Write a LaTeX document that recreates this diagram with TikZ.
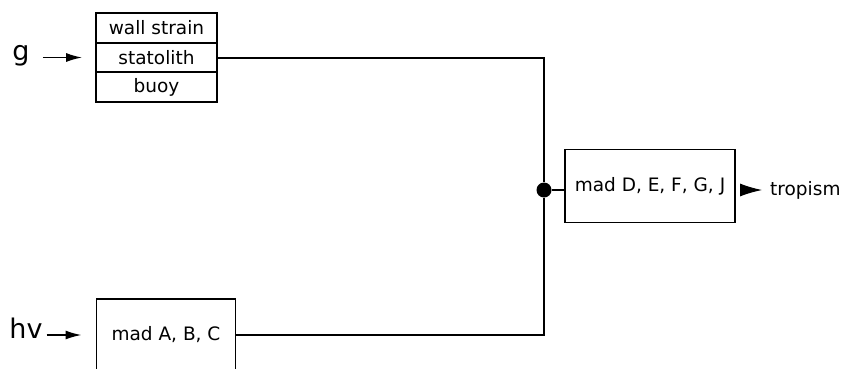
\documentclass[tikz,border=0pt]{standalone}
\usepackage{fontspec}
\setsansfont{DejaVu Sans}
\usetikzlibrary{arrows.meta}
\begin{document}
\begin{tikzpicture}[x=1pt,y=-1pt,
  every node/.style={font=\sffamily\fontsize{18.5}{21}\selectfont},
  cell/.style={draw, line width=1.7pt, minimum width=121pt, minimum height=29.5pt, inner sep=0pt},
  box/.style={draw, line width=1.9pt, inner sep=0pt},
  inlabel/.style={font=\sffamily\fontsize{27}{30}\selectfont, inner sep=0pt},
  wire/.style={line width=2pt},
  feed/.style={line width=1.6pt, -{Latex[length=16pt,width=9pt]}},
]
\useasboundingbox (0,0) rectangle (852,368);
\clip (0,0) rectangle (852,368);

% gravity sensing stack
\node[cell] (wall) at (156.5,28)   {wall strain};
\node[cell] (stat) at (156.5,57.5) {statolith};
\node[cell] (buoy) at (156.5,87)   {buoy};

% light sensing box (runs off the lower edge)
\node[box, minimum width=139pt, minimum height=72pt] (abc) at (166,335) {mad A, B, C};

% shared pathway box
\node[box, minimum width=170pt, minimum height=73pt] (mad) at (650,186) {mad D, E, F, G, J};

% junction
\node[circle, fill, inner sep=0pt, minimum size=15pt] (dot) at (544,190) {};

% stimuli and response
\node[inlabel, anchor=base] (g)  at (21,60)  {g};
\node[inlabel, anchor=base] (hv) at (26,338) {hv};
\node[anchor=base west, inner sep=0pt] (trop) at (770,195) {tropism};

% inputs
\draw[feed] ([xshift=13pt]g.east |- stat.west) -- ([xshift=-13pt]stat.west);
\draw[feed] ([xshift=4pt]hv.east |- abc.west) -- ([xshift=-14pt]abc.west);

% merging wires
\draw[wire] (stat.east) -| (dot) |- (abc.east);
\draw[wire] (dot) -- (mad.west |- dot);

% output
\draw[line width=1pt, -{Latex[length=22pt,width=13pt]}] ([xshift=5pt]mad.east |- dot) -- ([xshift=-8pt]trop.west |- dot);
\end{tikzpicture}
\end{document}
